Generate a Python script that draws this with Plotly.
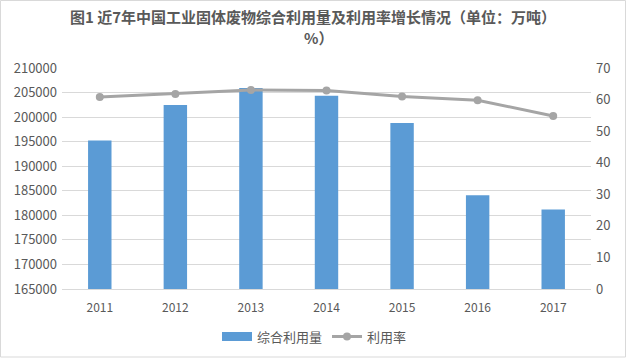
import plotly.graph_objects as go

years = ["2011", "2012", "2013", "2014", "2015", "2016", "2017"]
utilization_amount = [195215, 202462, 205916, 204330, 198807, 184096, 181187]
utilization_rate = [60.8, 61.8, 63.0, 62.9, 61.0, 59.8, 54.8]
title_line1 = "图1 近7年中国工业固体废物综合利用量及利用率增长情况（单位：万吨）"
title_line2 = "%）"

font_family = "Noto Sans CJK SC, Microsoft YaHei, sans-serif"
tick_color = "#595959"
bar_color = "#5B9BD5"
line_color = "#A5A5A5"

fig = go.Figure()
fig.add_trace(go.Bar(
    x=years, y=utilization_amount, name="综合利用量",
    marker=dict(color=bar_color, line=dict(width=0)),
    yaxis="y", showlegend=False,
))
# legend entry drawn as a wide rectangle, like the reference
fig.add_trace(go.Scatter(
    x=[None], y=[None], name="综合利用量", mode="lines",
    line=dict(color=bar_color, width=9), yaxis="y",
))
fig.add_trace(go.Scatter(
    x=years, y=utilization_rate, name="利用率",
    mode="lines+markers",
    line=dict(color=line_color, width=3),
    marker=dict(color=line_color, size=8),
    yaxis="y2",
))

fig.update_layout(
    width=626, height=363,
    margin=dict(l=62, r=35, t=68, b=74),
    paper_bgcolor="white", plot_bgcolor="white",
    font=dict(family=font_family, color=tick_color, size=12),
    bargap=0.69,
    xaxis=dict(
        type="category", showgrid=False, showline=True,
        linecolor="#D9D9D9", linewidth=1, ticks="",
        ticklabelstandoff=8,
        tickfont=dict(size=12, color=tick_color),
    ),
    yaxis=dict(
        range=[165000, 210000], dtick=5000, tickformat="d",
        showgrid=True, gridcolor="#D9D9D9", gridwidth=1,
        zeroline=False, showline=False, ticks="",
        ticklabelstandoff=4,
        tickfont=dict(size=13, color=tick_color),
    ),
    yaxis2=dict(
        range=[0, 70], dtick=10, overlaying="y", side="right",
        showgrid=False, zeroline=False, showline=False, ticks="",
        ticklabelstandoff=4,
        tickfont=dict(size=13, color=tick_color),
    ),
    showlegend=True,
    legend=dict(
        orientation="h", x=0.5 - 12 / 529, xanchor="center", y=-0.215, yanchor="middle",
        font=dict(size=13, color=tick_color, family=font_family),
        itemwidth=30, tracegroupgap=0,
    ),
    annotations=[
        dict(text="<b>" + title_line1 + "</b>", xref="paper", yref="paper",
             x=0.5 - (62 - 35) / 2 / 529, y=1 + (68 - 17) / 221,
             xanchor="center", yanchor="middle", showarrow=False,
             font=dict(size=15, color="#595959", family=font_family)),
        dict(text="<b>" + title_line2 + "</b>", xref="paper", yref="paper",
             x=0.5 - (62 - 35 - 10) / 2 / 529, y=1 + (68 - 37) / 221,
             xanchor="center", yanchor="middle", showarrow=False,
             font=dict(size=15, color="#595959", family=font_family)),
    ],
    shapes=[dict(
        type="rect", xref="paper", yref="paper",
        x0=-61.5/529, x1=1+34.5/529, y0=-68/221, y1=1+67.5/221,
        line=dict(color="#D9D9D9", width=1),
    )],
)

fig.write_html("out.html", config={"displayModeBar": False},
               post_script="document.body.style.margin='0';")
